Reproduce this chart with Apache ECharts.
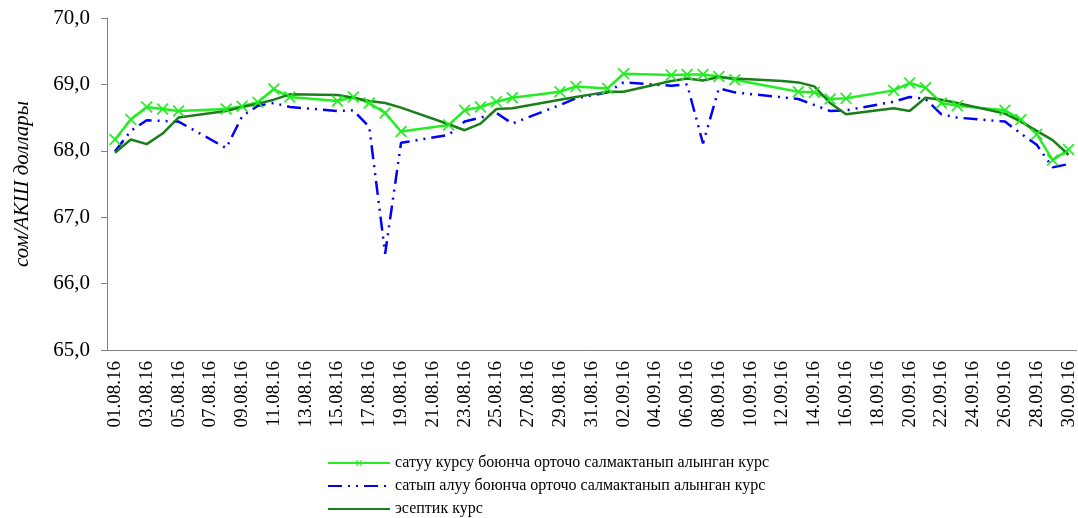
<!DOCTYPE html>
<html>
<head>
<meta charset="utf-8">
<script src="https://cdn.jsdelivr.net/npm/echarts@6/dist/echarts.min.js"></script>
<style>
  html, body { margin: 0; padding: 0; background: #fff; }
  #chart { width: 1078px; height: 518px; }
</style>
</head>
<body>
<div id="chart"></div>
<script>
// даталар: 01.08.16 - 30.09.16, дем алыш күндөрү null
const dates = [
  '01.08.16', '02.08.16', '03.08.16', '04.08.16', '05.08.16', '06.08.16', '07.08.16', '08.08.16',
  '09.08.16', '10.08.16', '11.08.16', '12.08.16', '13.08.16', '14.08.16', '15.08.16', '16.08.16',
  '17.08.16', '18.08.16', '19.08.16', '20.08.16', '21.08.16', '22.08.16', '23.08.16', '24.08.16',
  '25.08.16', '26.08.16', '27.08.16', '28.08.16', '29.08.16', '30.08.16', '31.08.16',
  '01.09.16', '02.09.16', '03.09.16', '04.09.16', '05.09.16', '06.09.16', '07.09.16', '08.09.16',
  '09.09.16', '10.09.16', '11.09.16', '12.09.16', '13.09.16', '14.09.16', '15.09.16', '16.09.16',
  '17.09.16', '18.09.16', '19.09.16', '20.09.16', '21.09.16', '22.09.16', '23.09.16', '24.09.16',
  '25.09.16', '26.09.16', '27.09.16', '28.09.16', '29.09.16', '30.09.16'
]

// сатуу курсу
const sellRate = [
  68.17, 68.47, 68.66, 68.63, 68.60, null, null, 68.63,
  68.67, 68.73, 68.93, 68.81, null, null, 68.75, 68.81,
  68.72, 68.57, 68.29, null, null, 68.39, 68.61, 68.66,
  68.74, 68.80, null, null, 68.89, 68.97, null,
  68.94, 69.16, null, null, 69.14, 69.15, 69.15, 69.12,
  69.07, null, null, null, 68.89, 68.88, 68.78, 68.79,
  null, null, 68.91, 69.02, 68.95, 68.72, 68.68, null,
  null, 68.61, 68.47, 68.25, 67.86, 68.02
]

// сатып алуу курсу
const buyRate = [
  67.99, 68.30, 68.46, 68.45, 68.44, null, null, 68.04,
  68.52, 68.68, 68.72, 68.66, null, null, 68.60, 68.61,
  68.36, 66.45, 68.12, null, null, 68.24, 68.44, 68.50,
  68.57, 68.41, null, null, 68.69, 68.79, null,
  68.88, 69.03, null, null, 68.98, 69.00, 68.11, 68.94,
  68.88, null, null, null, 68.78, 68.69, 68.60, 68.61,
  null, null, 68.74, 68.81, 68.78, 68.55, 68.50, null,
  null, 68.44, 68.26, 68.09, 67.75, 67.80
]

// эсептик курс
const officialRate = [
  67.97, 68.17, 68.10, 68.26, 68.50, null, null, 68.60,
  68.66, 68.71, 68.77, 68.85, null, null, 68.84, 68.80,
  68.75, 68.72, 68.65, null, null, 68.40, 68.31, 68.41,
  68.63, 68.64, null, null, 68.77, 68.81, 68.85,
  68.89, 68.89, null, null, 69.05, 69.09, 69.06, 69.11,
  69.09, null, null, 69.05, 69.03, 68.97, 68.72, 68.55,
  null, null, 68.64, 68.60, 68.80, 68.77, 68.72, null,
  null, 68.56, 68.44, 68.30, 68.16, 67.94
]

const seriesNames = [
  'сатуу курсу боюнча орточо салмактанып алынган курс',
  'сатып алуу боюнча орточо салмактанып алынган курс',
  'эсептик курс'
]

const font = "'Liberation Serif', 'Times New Roman', serif"
const crossPath = 'path://M0,1 L1,0 L5,4 L9,0 L10,1 L6,5 L10,9 L9,10 L5,6 L1,10 L0,9 L4,5 Z'

const chart = echarts.init(document.getElementById('chart'))
chart.setOption({
  animation: false,
  textStyle: { fontFamily: font, color: '#000' },
  grid: {
    left: 107,
    top: 18,
    bottom: 168,
    width: 975
  },
  legend: {
    orient: 'vertical',
    left: 327,
    top: 455,
    height: 70,
    padding: 0,
    itemWidth: 62,
    itemHeight: 8,
    itemGap: 7,
    data: [
      { name: seriesNames[0] },
      { name: seriesNames[1], itemStyle: { opacity: 0 } },
      { name: seriesNames[2], itemStyle: { opacity: 0 } }
    ],
    textStyle: { fontFamily: font, fontSize: 16, color: '#000' }
  },
  xAxis: {
    type: 'category',
    data: dates,
    boundaryGap: true,
    axisLine: { lineStyle: { color: '#808080', width: 1 } },
    axisTick: {
      interval: 1,
      length: 5,
      lineStyle: { color: '#808080' }
    },
    axisLabel: {
      interval: 1,
      rotate: 90,
      margin: 11,
      fontSize: 19,
      color: '#000',
      fontFamily: font
    }
  },
  yAxis: {
    type: 'value',
    min: 65,
    max: 70,
    interval: 1,
    name: 'сом/АКШ доллары',
    nameLocation: 'middle',
    nameGap: 74,
    nameTextStyle: {
      fontFamily: font,
      fontStyle: 'italic',
      fontSize: 21,
      color: '#000'
    },
    splitLine: { show: false },
    axisLine: { show: true, lineStyle: { color: '#808080', width: 1 } },
    axisTick: { show: true, length: 6, lineStyle: { color: '#808080' } },
    axisLabel: {
      margin: 17,
      fontSize: 21,
      color: '#000',
      fontFamily: font,
      formatter: v => v.toFixed(1).replace('.', ',')
    }
  },
  series: [{
    name: seriesNames[0],
    type: 'line',
    data: sellRate,
    connectNulls: true,
    symbol: crossPath,
    symbolSize: 12,
    showAllSymbol: true,
    itemStyle: { color: '#22ee22' },
    lineStyle: { color: '#22ee22', width: 2.5 }
  }, {
    name: seriesNames[1],
    type: 'line',
    data: buyRate,
    connectNulls: true,
    symbol: 'none',
    itemStyle: { color: '#0000ff' },
    lineStyle: { color: '#0000ff', width: 2.5, type: [14, 6, 2, 6, 2, 6] }
  }, {
    name: seriesNames[2],
    type: 'line',
    data: officialRate,
    connectNulls: true,
    symbol: 'none',
    itemStyle: { color: '#1a7f1a' },
    lineStyle: { color: '#1a7f1a', width: 2.5 }
  }]
})
</script>
</body>
</html>
